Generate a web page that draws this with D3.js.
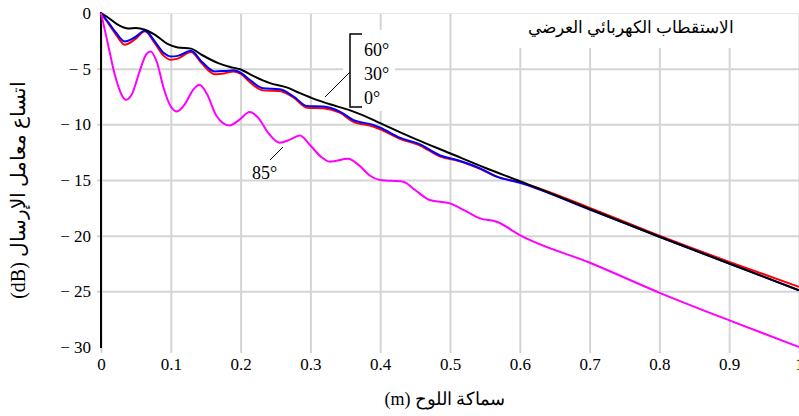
<!DOCTYPE html>
<html><head><meta charset="utf-8">
<script src="https://cdnjs.cloudflare.com/ajax/libs/d3/7.8.5/d3.min.js"></script>
<style>
html,body{margin:0;padding:0;background:#fff;}
svg{display:block;}
</style></head>
<body><svg id="c" width="799" height="416"></svg>
<script>
// ---- data (thickness in m, transmission in dB) ----
const xTicks = [0,0.1,0.2,0.3,0.4,0.5,0.6,0.7,0.8,0.9,1];
const xTickLabels = ["0","0.1","0.2","0.3","0.4","0.5","0.6","0.7","0.8","0.9","1"];
const yTicks = [0,-5,-10,-15,-20,-25,-30];
const yTickLabels = ["0","\u2212 5","\u2212 10","\u2212 15","\u2212 20","\u2212 25","\u2212 30"];

const title = "الاستقطاب الكهربائي العرضي";
const xTitle = "سماكة اللوح (m)";
const yTitle = "اتساع معامل الإرسال (dB)";
const legendLabels = ["60°","30°","0°"];
const label85 = "85°";

const s60x = [0,0.01,0.024,0.039,0.05,0.063,0.077,0.096,0.11,0.129,0.144,0.168,0.185,0.199,0.218,0.242,0.266,0.285,0.309,0.328,0.357,0.39,0.4,0.428,0.45,0.5,0.55,0.6,0.7,0.8,0.9,1.0];
const s60y = [0,-0.4,-1.05,-1.4,-1.35,-1.5,-1.95,-2.8,-3.1,-3.2,-3.75,-4.5,-4.85,-5.05,-5.65,-6.3,-6.68,-7.2,-7.8,-8.2,-8.75,-9.6,-9.9,-10.7,-11.3,-12.6,-13.9,-15.1,-17.6,-20.1,-22.5,-24.9];

const s30x = [0,0.01,0.02,0.034,0.048,0.063,0.077,0.09,0.1,0.11,0.129,0.144,0.163,0.178,0.19,0.201,0.213,0.232,0.256,0.276,0.295,0.318,0.342,0.361,0.39,0.4,0.428,0.457,0.486,0.51,0.543,0.567,0.6,0.7,0.8,0.9,1.0];
const s30y = [0,-0.8,-1.65,-2.55,-2.2,-1.6,-2.55,-3.6,-3.9,-3.85,-3.4,-4.35,-5.25,-5.2,-5.15,-5.4,-6.0,-6.75,-6.85,-7.5,-8.35,-8.4,-8.85,-9.6,-10.05,-10.3,-11.2,-11.8,-12.8,-13.2,-13.95,-14.7,-15.25,-17.65,-20.1,-22.5,-24.9];

const s0x = [0,0.01,0.02,0.034,0.048,0.063,0.077,0.09,0.1,0.11,0.129,0.144,0.163,0.178,0.19,0.201,0.213,0.232,0.256,0.276,0.295,0.318,0.342,0.361,0.39,0.4,0.428,0.457,0.486,0.51,0.543,0.567,0.6,0.7,0.8,0.9,1.0];
const s0y = [0,-0.9,-1.8,-2.85,-2.4,-1.65,-2.7,-3.85,-4.2,-4.1,-3.5,-4.5,-5.5,-5.4,-5.25,-5.5,-6.2,-6.95,-7.0,-7.6,-8.5,-8.55,-8.95,-9.75,-10.2,-10.45,-11.3,-11.9,-12.9,-13.25,-14.0,-14.7,-15.2,-17.5,-20.0,-22.35,-24.6];

const s85x = [0,0.01,0.02,0.03,0.036,0.045,0.055,0.065,0.071,0.08,0.09,0.1,0.109,0.12,0.132,0.141,0.152,0.165,0.184,0.198,0.213,0.225,0.24,0.256,0.27,0.285,0.3,0.315,0.328,0.354,0.37,0.385,0.4,0.433,0.45,0.471,0.5,0.52,0.543,0.567,0.6,0.703,0.803,0.904,1.0];
const s85y = [0,-2.8,-5.6,-7.4,-7.8,-7.2,-5.3,-3.7,-3.45,-4.4,-6.8,-8.4,-8.85,-8.2,-6.9,-6.45,-7.3,-9.2,-10.1,-9.6,-8.9,-9.4,-10.8,-11.65,-11.4,-11.0,-11.9,-12.9,-13.35,-13.1,-13.7,-14.6,-15.0,-15.15,-15.9,-16.8,-17.1,-17.7,-18.45,-18.75,-19.95,-22.5,-25.2,-27.7,-30.0];

const series = [
  {xs:s0x, ys:s0y, color:"#ff0000"},
  {xs:s30x, ys:s30y, color:"#0000ff"},
  {xs:s60x, ys:s60y, color:"#000000"},
  {xs:s85x, ys:s85y, color:"#ff00ff"}
];

const FONT = "'Liberation Serif','Times New Roman','DejaVu Serif',serif";

// ---- layout ----
const svg = d3.select("#c");
const x = d3.scaleLinear().domain([0,1]).range([101,799]);
const y = d3.scaleLinear().domain([-30,0]).range([347,13]);

// vertical grid (x axis)
const gx = svg.append("g").attr("transform","translate(0,353)")
  .call(d3.axisBottom(x).tickValues(xTicks).tickFormat((d,i)=>xTickLabels[i])
        .tickSize(-(353-13)).tickPadding(5));
gx.select(".domain").remove();
gx.selectAll(".tick line").attr("stroke","#d4d4d4").attr("stroke-width",2);
gx.selectAll(".tick text").style("font-family",FONT).style("font-size","17px").attr("fill","#000");

// horizontal grid (y axis)
const gy = svg.append("g").attr("transform","translate(97,0)")
  .call(d3.axisLeft(y).tickValues(yTicks).tickFormat((d,i)=>yTickLabels[i])
        .tickSize(-(799-97)).tickPadding(6));
gy.select(".domain").remove();
gy.selectAll(".tick line").attr("stroke","#d4d4d4").attr("stroke-width",2);
gy.selectAll(".tick line").filter(d=>d===0).attr("stroke","#e6e6e6").attr("stroke-width",1);
gy.selectAll(".tick line").filter(d=>d===-30).attr("stroke","none");
gy.selectAll(".tick text").style("font-family",FONT).style("font-size","17px").attr("fill","#000");

// white boxes behind annotations
svg.append("rect").attr("x",518).attr("y",14).attr("width",220).attr("height",34).attr("fill","#fff");
svg.append("rect").attr("x",343).attr("y",30).attr("width",52).attr("height",81).attr("fill","#fff");

// left axis line
svg.append("line").attr("x1",x(0)).attr("x2",x(0)).attr("y1",y(0)-1).attr("y2",y(-30)+1)
  .attr("stroke","#000").attr("stroke-width",2);

// curves
const line = d3.line().x(d=>x(d[0])).y(d=>y(d[1])).curve(d3.curveMonotoneX);
series.forEach(s=>{
  const pts = s.xs.map((v,i)=>[v,s.ys[i]]);
  svg.append("path").datum(pts).attr("d",line).attr("fill","none")
    .attr("stroke",s.color).attr("stroke-width",2).attr("stroke-linejoin","round");
});

function txt(){ return svg.append("text").style("font-family",FONT).attr("fill","#000"); }

// title
txt().attr("x",631).attr("y",33).attr("text-anchor","middle")
  .attr("direction","rtl").style("font-size","17px").text(title);

// legend bracket
svg.append("path").attr("d","M362,34H350V107H362").attr("fill","none").attr("stroke","#000").attr("stroke-width",1.5);
svg.append("line").attr("x1",350).attr("y1",72).attr("x2",325).attr("y2",97).attr("stroke","#000").attr("stroke-width",1);
legendLabels.forEach((t,i)=>{
  txt().attr("x",364).attr("y",56+i*24).style("font-size","18px").text(t);
});

// 85° label
svg.append("line").attr("x1",283).attr("y1",147).attr("x2",270).attr("y2",160).attr("stroke","#000").attr("stroke-width",1);
txt().attr("x",252).attr("y",179).style("font-size","18px").text(label85);

// axis titles
txt().attr("x",445).attr("y",405).attr("text-anchor","middle")
  .attr("direction","rtl").style("font-size","18px").text(xTitle);
txt().attr("transform","translate(25,190) rotate(-90)").attr("text-anchor","middle")
  .attr("direction","rtl").style("font-size","20px").text(yTitle);
</script></body></html>
